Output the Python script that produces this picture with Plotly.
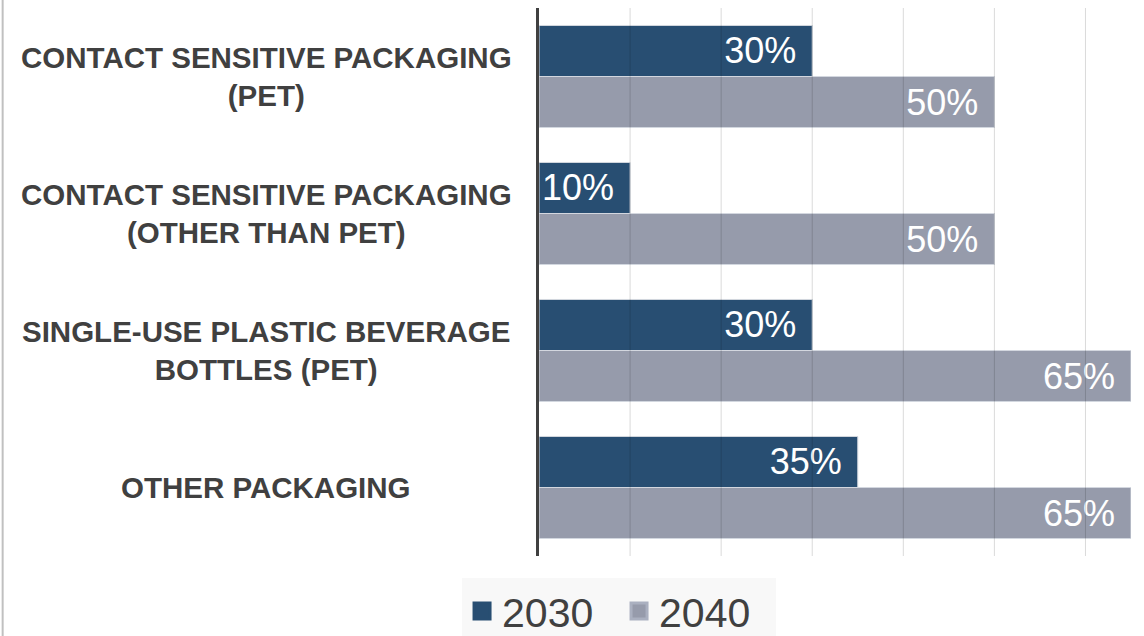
import plotly.graph_objects as go

categories = [
    "CONTACT SENSITIVE PACKAGING<br>(PET)",
    "CONTACT SENSITIVE PACKAGING<br>(OTHER THAN PET)",
    "SINGLE-USE PLASTIC BEVERAGE<br>BOTTLES (PET)",
    "OTHER PACKAGING",
]
cat_keys = ["c1", "c2", "c3", "c4"]
series_names = ["2030", "2040"]
values_2030 = [30, 10, 30, 35]
values_2040 = [50, 50, 65, 65]
grid_ticks = [10, 20, 30, 40, 50, 60]

col_2030 = "#284e72"
col_2040 = "#969bab"
text_col = "#404040"
FONT = "Liberation Sans, Arial, sans-serif"

fig = go.Figure()
for name, vals, col, lcol in [(series_names[0], values_2030, col_2030, col_2030),
                              (series_names[1], values_2040, col_2040, "#aab0c0")]:
    fig.add_trace(go.Bar(
        y=cat_keys, x=vals, name=name, orientation="h",
        marker=dict(color=col, line=dict(color="#d3d7df", width=1)),
        text=[f"{v}%\u00a0\u200a" for v in vals],
        textposition="inside", insidetextanchor="end",
        textfont=dict(family=FONT, size=36, color="white"),
        constraintext="none", cliponaxis=False,
        showlegend=False, hoverinfo="skip",
    ))
    # legend entries
    fig.add_trace(go.Scatter(
        x=[None], y=[None], mode="markers", name=name,
        marker=dict(symbol="square", size=16, color=col,
                    line=dict(color=lcol, width=3)),
        showlegend=True,
    ))

# gridlines drawn above the bars (as in the reference)
for t in grid_ticks:
    fig.add_shape(type="line", xref="x", yref="paper", x0=t, x1=t, y0=0, y1=1,
                  line=dict(color="rgba(0,0,0,0.15)", width=1), layer="above")

# category labels (centered multi-line)
for key, lab in zip(cat_keys, categories):
    fig.add_annotation(x=-0.461, xref="paper", y=key, yref="y", text=f"<b>{lab}</b>",
                       showarrow=False, xanchor="center", yanchor="middle", align="center",
                       font=dict(family=FONT, size=29.5, color=text_col))

# left frame border
fig.add_shape(type="line", xref="paper", yref="paper", x0=-0.906, x1=-0.906,
              y0=-0.16, y1=1.02, line=dict(color="#c0c0c0", width=2))

fig.update_layout(
    width=1144, height=636,
    margin=dict(l=539, r=13, t=8, b=80, autoexpand=False),
    paper_bgcolor="white", plot_bgcolor="white",
    barmode="group", bargap=0.255, bargroupgap=0,
    xaxis=dict(range=[0, 65], showticklabels=False, showgrid=False,
               zeroline=False, showline=False, fixedrange=True),
    yaxis=dict(type="category", categoryorder="array", categoryarray=cat_keys,
               range=[3.5, -0.5], showticklabels=False, showgrid=False,
               zeroline=False, showline=True, linecolor=text_col, linewidth=3,
               fixedrange=True),
    legend=dict(orientation="h", x=-0.130, xanchor="left", y=-0.040, yanchor="top",
                bgcolor="#f8f8f8", font=dict(family=FONT, size=41, color=text_col),
                itemsizing="trace", borderwidth=0, entrywidth=112),
    font=dict(family=FONT, color=text_col),
)

fig.write_html("out.html", config={"displayModeBar": False},
               post_script="document.body.style.margin='0px';")
